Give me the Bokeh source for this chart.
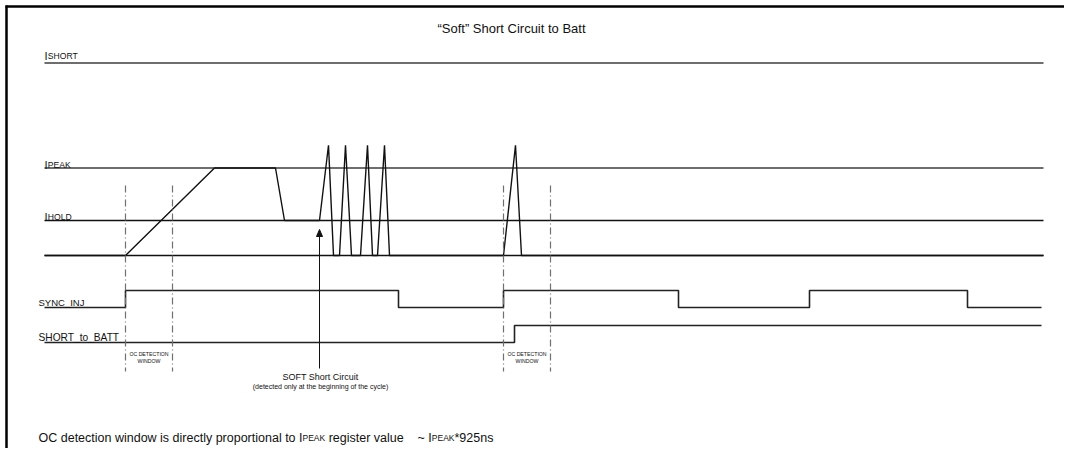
from bokeh.plotting import figure
from bokeh.models import Range1d
from bokeh.embed import file_html
from bokeh.resources import INLINE
from bokeh.core.properties import value

# ---------------- data (time in diagram units, levels in signal units) ----------------
# reference current levels
level_names = ["SHORT", "PEAK", "HOLD", "ZERO"]
level_values = [5.5, 2.5, 1.0, 0.0]
spike = 3.15

# coil current waveform
cur_t = [44, 125, 214, 275, 284, 319, 328, 333, 339, 345, 351, 360, 367, 372, 377, 384, 389,
         503, 515, 521, 1043]
cur_i = [0, 0, 2.5, 2.5, 1.0, 1.0, spike, 0, 0, spike, 0, 0, spike, 0, 0, spike, 0,
         0, spike, 0, 0]

# SYNC_INJ digital signal (edge times, state after edge)
sync_t = [44, 125, 398, 503, 678, 809, 967, 1041]
sync_s = [0, 1, 0, 1, 0, 1, 0, 0]

# SHORT_to_BATT digital signal
stb_t = [44, 514, 1041]
stb_s = [0, 1, 1]

# OC detection windows (start, end)
oc_start = [125, 503]
oc_end = [172, 550]

# soft short-circuit event time
soft_t = 319

t_start, t_end = 44, 1043

# ---------------- helpers ----------------
W = {' ': 278, '\u00a0': 278, 'a': 556, 'b': 556, 'c': 500, 'd': 556, 'e': 556, 'f': 278,
     'g': 556, 'h': 556, 'i': 222, 'j': 222, 'k': 500, 'l': 222, 'm': 833, 'n': 556, 'o': 556,
     'p': 556, 'q': 556, 'r': 333, 's': 500, 't': 278, 'u': 556, 'v': 500, 'w': 722, 'x': 500,
     'y': 500, 'z': 500, 'O': 778, 'C': 722, 'A': 667, 'E': 667, 'K': 667, 'P': 667, 'I': 278,
     '~': 584, '*': 389, '9': 556, '2': 556, '5': 556, 'H': 722, 'L': 556, 'D': 722, 'S': 667,
     'R': 722, 'T': 611}


def tw(s, size):
    return sum(W.get(c, 556) for c in s) * size / 1000.0


FONT = value("Liberation Sans")

p = figure(width=1064, height=448, output_backend="svg", toolbar_location=None,
           x_range=Range1d(0, 1064), y_range=Range1d(448, 0), min_border=0)
p.axis.visible = False
p.grid.visible = False
p.outline_line_color = None
p.background_fill_color = "white"
p.border_fill_color = "white"

# frame (top & left edges of the figure box)
p.segment(x0=[5, 6], y0=[6, 5], x1=[1064, 6], y1=[6, 448], line_color="black", line_width=2.5)

# current lane: y = base - level*scale
cur_base, cur_scale = 255, 35.0


def cy(v):
    return cur_base - v * cur_scale


ref_colors = ["#6e6e6e", "#6e6e6e", "#111111", "#111111"]
ref_widths = [1.8, 1.8, 1.3, 1.5]
for v, c, w in zip(level_values, ref_colors, ref_widths):
    p.line([t_start, t_end], [cy(v), cy(v)], line_color=c, line_width=w)

p.line(cur_t, [cy(v) for v in cur_i], line_color="#111111", line_width=1.4)


def step_xy(ts, ss, base, amp):
    xs, ys = [], []
    for k, (t, s) in enumerate(zip(ts, ss)):
        y = base - s * amp
        if k > 0:
            xs.append(t)
            ys.append(ys[-1])
        xs.append(t)
        ys.append(y)
    return xs, ys


sx, sy = step_xy(sync_t, sync_s, 307, 17)
p.line(sx, sy, line_color="#222222", line_width=1.6)
bx, by = step_xy(stb_t, stb_s, 342, 17)
p.line(bx, by, line_color="#222222", line_width=1.6)

# OC detection window markers
win_x = oc_start + oc_end
p.segment(x0=win_x, y0=[185] * 4, x1=win_x, y1=[371] * 4, line_color="#707070",
          line_width=1.2, line_dash="7 3 1 3")

# arrow for soft short-circuit
p.segment(x0=[soft_t], y0=[368], x1=[soft_t], y1=[234], line_color="#111111", line_width=1)
p.patch([soft_t - 3, soft_t + 3, soft_t], [236, 236, 229], color="#111111")

# ---------------- texts ----------------


def txt(x, y, s, size, align="left", baseline="alphabetic", color="#111111"):
    p.text(x=[x], y=[y], text=[s], text_font=FONT, text_font_size=f"{size}px",
           text_align=align, text_baseline=baseline, text_color=color)


def ilabel(x, y, sub, big=11, small=8.6):
    txt(x, y, "I", big)
    txt(x + tw("I", big) + 0.2, y, sub, small)


txt(511, 28, "\u201cSoft\u201d Short Circuit to Batt", 13, align="center", baseline="middle")

ilabel(44, 55, level_names[0])
ilabel(44, 164, level_names[1])
ilabel(44, 216, level_names[2])

txt(38, 302, "SYNC_INJ", 9.5)
txt(38, 337, "SHORT_to_BATT", 10.2)

for a, b in zip(oc_start, oc_end):
    txt((a + b) / 2, 353, "OC DETECTION", 5.2, align="center", baseline="middle")
    txt((a + b) / 2, 360, "WINDOW", 5.2, align="center", baseline="middle")

txt(soft_t + 1, 376, "SOFT Short Circuit", 9, align="center", baseline="middle")
txt(soft_t + 1, 386, "(detected only at the beginning of the cycle)", 7, align="center",
    baseline="middle")

# bottom note with small-caps IPEAK
bsz, ssz = 12.5, 8.5
x = 38
y = 437
parts = [("OC detection window is directly proportional to ", bsz), ("I", bsz), ("PEAK", ssz),
         ("\u00a0register value\u00a0\u00a0\u00a0 ~ ", bsz), ("I", bsz), ("PEAK", ssz),
         ("*925ns", bsz)]
for s, sz in parts:
    txt(x, y, s, sz)
    x += tw(s, sz)

open("out.html", "w").write(file_html(p, INLINE))
